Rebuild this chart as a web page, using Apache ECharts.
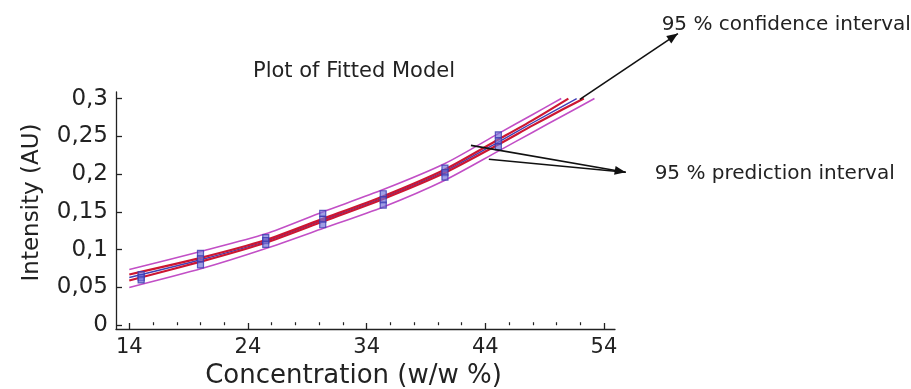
<!DOCTYPE html>
<html><head><meta charset="utf-8">
<script src="https://cdn.jsdelivr.net/npm/echarts@6/dist/echarts.min.js"></script>
<style>html,body{margin:0;padding:0;background:#fff}#c{width:911px;height:389px}</style>
</head><body><div id="c"></div>
<script>
// ---- tick values ----
const xTicks = [14, 24, 34, 44, 54];
const xMinorTicks = [16, 18, 20, 22, 26, 28, 30, 32, 36, 38, 40, 42, 46, 48, 50, 52];
const yTicks = [0, 0.05, 0.1, 0.15, 0.2, 0.25, 0.3];

// ---- measured samples (replicates) ----
const sampleX = [15, 20, 25.5, 30.3, 35.4, 40.6, 45.1];
const rep1 = [0.067, 0.095, 0.116, 0.148, 0.174, 0.208, 0.252];
const rep2 = [0.063, 0.088, 0.112, 0.140, 0.166, 0.202, 0.244];
const rep3 = [0.060, 0.080, 0.107, 0.133, 0.159, 0.196, 0.236];

// ---- fitted model ----
const fitX = [14, 20.1, 25.5, 30.3, 35.4, 40.6, 45.1, 48, 51.7];
const fitY = [0.0632, 0.087, 0.111, 0.139, 0.169, 0.204, 0.2425, 0.268, 0.300];

// ---- 95 % confidence interval ----
const confUpX = [14, 20.1, 25.5, 30.3, 35.4, 40.6, 45.1, 48, 51.0];
const confUpY = [0.0672, 0.0895, 0.1128, 0.1408, 0.1708, 0.2062, 0.2458, 0.2715, 0.300];
const confLoX = [14, 20.1, 25.5, 30.3, 35.4, 40.6, 45.1, 48, 50.5, 52.3];
const confLoY = [0.0592, 0.0845, 0.1092, 0.1372, 0.1672, 0.2018, 0.2392, 0.2645, 0.2855, 0.300];

// ---- 95 % prediction interval ----
const predUpX = [14, 20.1, 25.5, 30.3, 35.4, 40.6, 45.1, 48, 50.4];
const predUpY = [0.0737, 0.098, 0.121, 0.150, 0.1795, 0.214, 0.2536, 0.279, 0.300];
const predLoX = [14, 20.1, 25.5, 30.3, 35.4, 40.6, 45.1, 48, 50.5, 53.2];
const predLoY = [0.050, 0.075, 0.1015, 0.128, 0.1566, 0.192, 0.2305, 0.2555, 0.277, 0.300];

// ---- annotation anchors (data coordinates) ----
const confArrowFrom = [51.97, 0.299];
const confArrowTo = [60.23, 0.386];
const predArrowFrom1 = [42.79, 0.2381];
const predArrowFrom2 = [44.30, 0.2196];
const predArrowTo = [55.83, 0.2024];
const confLabelAt = [58.86, 0.398];
const predLabelAt = [58.27, 0.1998];
const confLabel = '95 % confidence interval';
const predLabel = '95 % prediction interval';

const FONT = '"DejaVu Sans", "Liberation Sans", sans-serif';
const zip = (xs, ys) => xs.map((x, i) => [x, ys[i]]);
const samples = [];
[rep1, rep2, rep3].forEach(r => r.forEach((v, i) => samples.push([sampleX[i], v])));

const lineSeries = (name, xs, ys, color, width, z) => ({
  name, type: 'line', data: zip(xs, ys), smooth: 0.25, showSymbol: false,
  symbol: 'none', z, silent: true,
  lineStyle: { color, width }
});

const chart = echarts.init(document.getElementById('c'), null, { renderer: 'canvas' });
chart.setOption({
  animation: false,
  backgroundColor: '#ffffff',
  title: {
    text: 'Plot of Fitted Model', left: 253, top: 61, padding: 0,
    textStyle: { fontFamily: FONT, fontSize: 21, fontWeight: 'normal', color: '#222' }
  },
  grid: { left: 116, right: 296, top: 92, bottom: 60, containLabel: false, outerBoundsMode: 'none' },
  xAxis: [{
    type: 'value', min: 12.88, max: 54.93, position: 'bottom',
    name: 'Concentration (w/w %)', nameLocation: 'middle', nameGap: 29,
    nameTextStyle: { fontFamily: FONT, fontSize: 26, color: '#222', padding: [0, 24, 0, 0] },
    axisLine: { show: true, onZero: false, lineStyle: { color: '#222', width: 1.3 } },
    axisTick: { show: true, inside: true, length: 6, customValues: xTicks, lineStyle: { color: '#222', width: 1.3 } },
    axisLabel: { show: true, customValues: xTicks, margin: 8, fontFamily: FONT, fontSize: 21, color: '#222' },
    splitLine: { show: false }
  }, {
    type: 'value', min: 12.88, max: 54.93, position: 'bottom', gridIndex: 0,
    axisLine: { show: false },
    axisTick: { show: true, inside: true, length: 3, customValues: xMinorTicks, lineStyle: { color: '#222', width: 1.2 } },
    axisLabel: { show: false },
    splitLine: { show: false }
  }],
  yAxis: {
    type: 'value', min: -0.005, max: 0.3087,
    name: 'Intensity (AU)', nameLocation: 'middle', nameGap: 72, nameRotate: 90,
    nameTextStyle: { fontFamily: FONT, fontSize: 23, color: '#222', padding: [0, 0, 0, 16] },
    axisLine: { show: true, onZero: false, lineStyle: { color: '#222', width: 1.3 } },
    axisTick: { show: true, inside: true, length: 6, customValues: yTicks, lineStyle: { color: '#222', width: 1.3 } },
    axisLabel: {
      show: true, customValues: yTicks, margin: 8, fontFamily: FONT, fontSize: 23, color: '#222',
      formatter: v => String(Math.round(v * 1000) / 1000).replace('.', ',')
    },
    splitLine: { show: false }
  },
  series: [
    lineSeries('95% prediction upper', predUpX, predUpY, '#c24fc6', 1.6, 2),
    lineSeries('95% prediction lower', predLoX, predLoY, '#c24fc6', 1.6, 2),
    lineSeries('Fitted model', fitX, fitY, '#3f3fb5', 1.4, 3),
    lineSeries('95% confidence upper', confUpX, confUpY, '#cc1632', 2.2, 4),
    lineSeries('95% confidence lower', confLoX, confLoY, '#cc1632', 2.2, 4),
    {
      name: 'Samples', type: 'scatter', data: samples, symbol: 'rect', symbolSize: 6, z: 6,
      itemStyle: { color: 'rgba(115,115,215,0.85)', borderColor: '#3a3ab0', borderWidth: 1.2 }
    }
  ]
});

// annotation arrows and labels, anchored in data coordinates
const px = p => chart.convertToPixel({ xAxisIndex: 0, yAxisIndex: 0 }, p);
function head(from, to, L, w) {
  const dx = to[0] - from[0], dy = to[1] - from[1];
  const n = Math.hypot(dx, dy), ux = dx / n, uy = dy / n;
  const bx = to[0] - ux * L, by = to[1] - uy * L;
  return [[to[0], to[1]], [bx - uy * w, by + ux * w], [bx + uy * w, by - ux * w]];
}
const cF = px(confArrowFrom), cT = px(confArrowTo);
const p1 = px(predArrowFrom1), p2 = px(predArrowFrom2), pT = px(predArrowTo);
const cL = px(confLabelAt), pL = px(predLabelAt);
const lineStyle = { stroke: '#111', lineWidth: 1.6, fill: null };
chart.setOption({
  graphic: [
    { type: 'polyline', shape: { points: [cF, cT] }, style: lineStyle, silent: true, z: 10 },
    { type: 'polygon', shape: { points: head(cF, cT, 11, 4.5) }, style: { fill: '#111' }, silent: true, z: 10 },
    { type: 'polyline', shape: { points: [p1, pT] }, style: lineStyle, silent: true, z: 10 },
    { type: 'polyline', shape: { points: [p2, pT] }, style: lineStyle, silent: true, z: 10 },
    { type: 'polygon', shape: { points: head(p1, pT, 11, 4.5) }, style: { fill: '#111' }, silent: true, z: 10 },
    { type: 'text', x: cL[0], y: cL[1], style: { text: confLabel, font: '20px ' + FONT, fill: '#222', verticalAlign: 'middle', textVerticalAlign: 'middle' }, silent: true, z: 10 },
    { type: 'text', x: pL[0], y: pL[1], style: { text: predLabel, font: '20px ' + FONT, fill: '#222', verticalAlign: 'middle', textVerticalAlign: 'middle' }, silent: true, z: 10 }
  ]
});
</script>
</body></html>
